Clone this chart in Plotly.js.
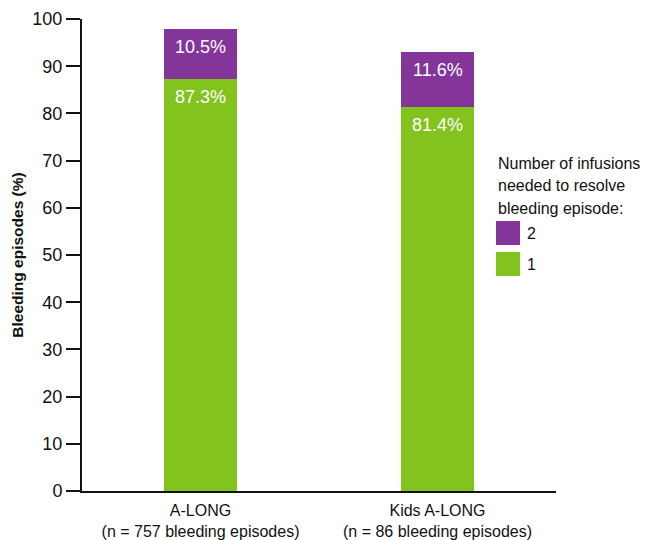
<!DOCTYPE html>
<html>
<head>
<meta charset="utf-8">
<script src="https://cdn.plot.ly/plotly-3.0.1.min.js"></script>
<style>
  html, body { margin: 0; padding: 0; background: #ffffff; }
  #chart { width: 646px; height: 540px; }
</style>
</head>
<body>
<div id="chart"></div>
<script>
// Study arms (x categories)
const studies = [
  'A-LONG<br>(n = 757 bleeding episodes)',
  'Kids A-LONG<br>(n = 86 bleeding episodes)'
];

// Share of bleeding episodes (%) resolved by number of infusions
const oneInfusion = [87.3, 81.4];
const twoInfusions = [10.5, 11.6];

const seriesNames = ['1', '2'];
const seriesColors = ['#82C31E', '#84359A'];

const legendTitleLines = ['Number of infusions', 'needed to resolve', 'bleeding episode:'];
const yTickValues = [0, 10, 20, 30, 40, 50, 60, 70, 80, 90, 100];
const yTitle = 'Bleeding episodes (%)';

const FONT = 'Liberation Sans, Arial, Helvetica, sans-serif';
const INK = '#111111';
const M = { l: 82, r: 90, t: 19, b: 49 };
const W = 646, H = 540;
const plotW = W - M.l - M.r, plotH = H - M.t - M.b;
const px2x = px => (px - M.l) / plotW;
const px2y = py => (H - M.b - py) / plotH;

const stacks = [oneInfusion, twoInfusions];

const traces = stacks.map((vals, k) => ({
  type: 'bar',
  name: seriesNames[k],
  x: studies,
  y: vals,
  width: 0.304,
  marker: { color: seriesColors[k], line: { width: 0 } },
  hoverinfo: 'skip',
  showlegend: false
}));

// Value labels inside each segment, near its top edge
const annotations = [];
stacks.forEach((vals, k) => {
  vals.forEach((v, i) => {
    let base = 0;
    for (let j = 0; j < k; j++) base += stacks[j][i];
    annotations.push({
      x: studies[i], y: base + v, xref: 'x', yref: 'y',
      text: v.toFixed(1) + '%',
      showarrow: false, yanchor: 'middle', yshift: -18,
      font: { family: FONT, size: 18, color: '#ffffff' }
    });
  });
});

// Legend block drawn to the right of the bars
legendTitleLines.forEach((line, n) => {
  annotations.push({
    x: px2x(496), y: px2y(164 + n * 22), xref: 'paper', yref: 'paper',
    text: line, showarrow: false, xanchor: 'left', yanchor: 'middle',
    font: { family: FONT, size: 16, color: INK }
  });
});

const shapes = [];
const legendOrder = [1, 0];
legendOrder.forEach((k, n) => {
  const top = 221 + n * 31;
  shapes.push({
    type: 'rect', xref: 'paper', yref: 'paper',
    x0: px2x(496), x1: px2x(520), y0: px2y(top + 24), y1: px2y(top),
    fillcolor: seriesColors[k], line: { width: 0 }
  });
  annotations.push({
    x: px2x(525), y: px2y(top + 12), xref: 'paper', yref: 'paper',
    text: seriesNames[k], showarrow: false, xanchor: 'left', yanchor: 'middle',
    font: { family: FONT, size: 16, color: INK }
  });
});

const layout = {
  width: W, height: H,
  margin: M,
  paper_bgcolor: '#ffffff', plot_bgcolor: '#ffffff',
  barmode: 'stack',
  showlegend: false,
  font: { family: FONT, color: INK },
  xaxis: {
    type: 'category',
    range: [-0.5, 1.5],
    showline: true, linecolor: INK, linewidth: 2,
    // invisible ticks only push the category labels down a little
    ticks: 'outside', ticklen: 4, tickcolor: 'rgba(0,0,0,0)',
    showgrid: false, zeroline: false,
    tickfont: { family: FONT, size: 16, color: INK },
    fixedrange: true
  },
  yaxis: {
    range: [0, 100],
    tickvals: yTickValues,
    ticktext: yTickValues.map(String),
    showline: true, linecolor: INK, linewidth: 2,
    ticks: 'outside', ticklen: 14, tickwidth: 2, tickcolor: INK,
    showgrid: false, zeroline: false,
    tickfont: { family: FONT, size: 18, color: INK },
    title: { text: '<b>' + yTitle + '</b>', font: { family: FONT, size: 15.5, color: INK }, standoff: 5 },
    fixedrange: true
  },
  annotations: annotations,
  shapes: shapes
};

Plotly.newPlot('chart', traces, layout, { displayModeBar: false, staticPlot: true });
</script>
</body>
</html>
